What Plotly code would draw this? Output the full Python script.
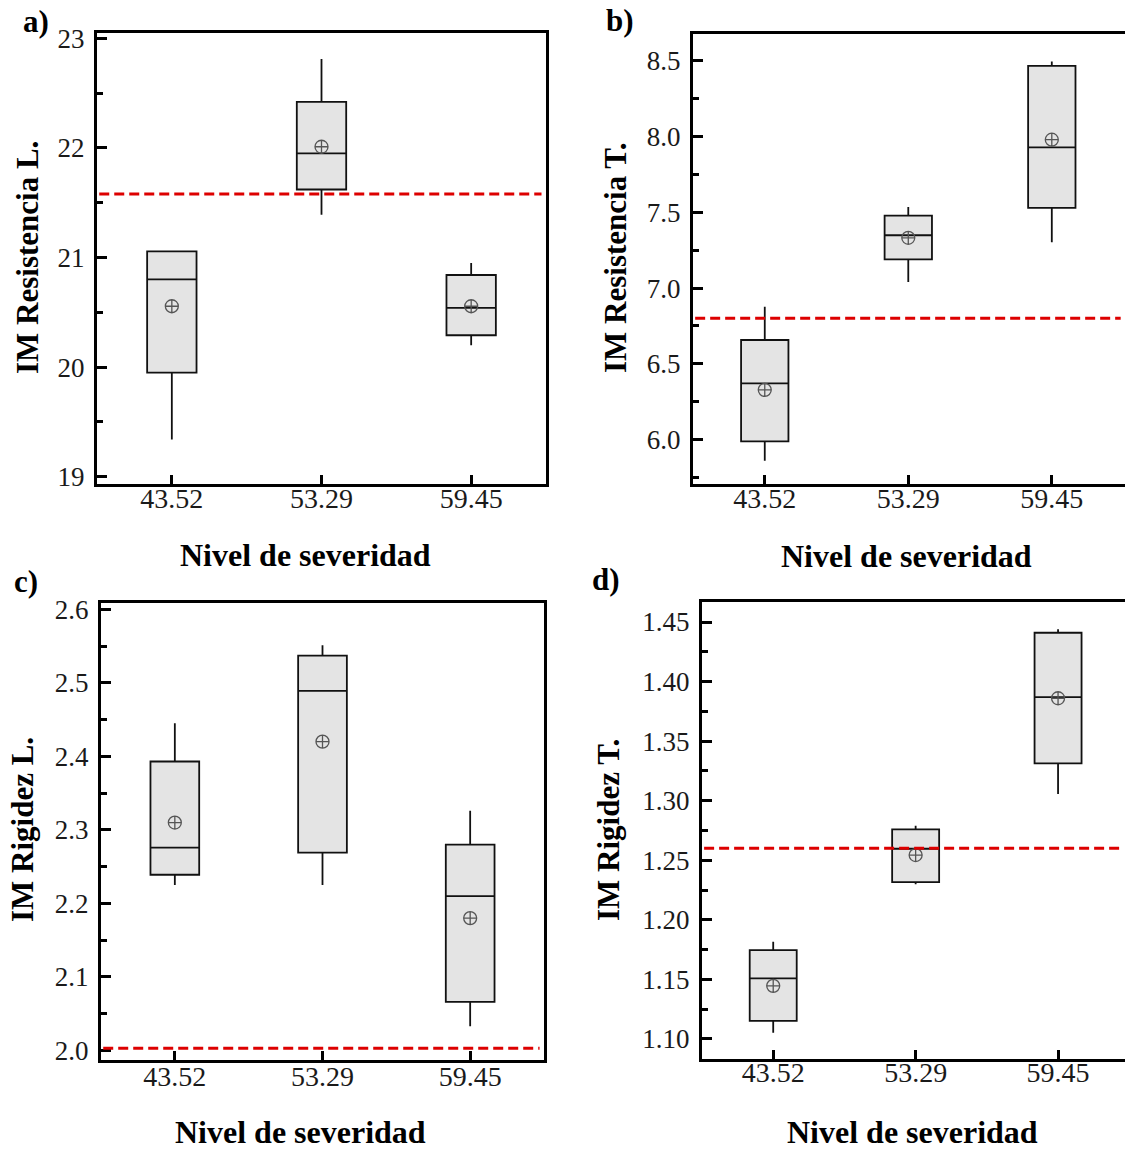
import plotly.graph_objects as go

W, H = 1125, 1149

categories = ["43.52", "53.29", "59.45"]

# Panel a) IM Resistencia L.
a_q1 = [19.95, 21.62, 20.29]
a_median = [20.80, 21.95, 20.54]
a_q3 = [21.055, 22.42, 20.84]
a_lower = [19.34, 21.39, 20.20]
a_upper = [21.055, 22.81, 20.95]
a_mean = [20.555, 22.01, 20.555]
a_ref = 21.58

# Panel b) IM Resistencia T.
b_q1 = [5.988, 7.189, 7.530]
b_median = [6.370, 7.349, 7.929]
b_q3 = [6.657, 7.479, 8.467]
b_lower = [5.86, 7.04, 7.303]
b_upper = [6.877, 7.536, 8.496]
b_mean = [6.328, 7.332, 7.980]
b_ref = 6.80

# Panel c) IM Rigidez L.
c_q1 = [2.239, 2.269, 2.066]
c_median = [2.276, 2.489, 2.210]
c_q3 = [2.393, 2.537, 2.280]
c_lower = [2.225, 2.225, 2.033]
c_upper = [2.445, 2.551, 2.326]
c_mean = [2.310, 2.420, 2.180]
c_ref = 2.003

# Panel d) IM Rigidez T.
d_q1 = [1.1152, 1.2317, 1.3314]
d_median = [1.1508, 1.2597, 1.387]
d_q3 = [1.1746, 1.276, 1.441]
d_lower = [1.1052, 1.2298, 1.3056]
d_upper = [1.1816, 1.279, 1.444]
d_mean = [1.1446, 1.2544, 1.386]
d_ref = 1.260

FONT = "Liberation Serif"

def px_x(p):
    return p / W

def px_y(p):
    return 1 - p / H

panels = [
    dict(key="", q1=a_q1, med=a_median, q3=a_q3, lo=a_lower, up=a_upper, mean=a_mean, ref=a_ref,
         xdom=(97, 546), ydom=(33, 484), yrange=(18.933, 23.048), dtick=1, minor=0.5, fmt="d",
         xrange=(-0.5, 2.5), mirror_y=True, ytitle="IM Resistencia L.", label="a)",
         label_pos=(36, 22), ytitle_pos=(27, 258), xtitle_pos=(305, 555), xstand=-13),
    dict(key="2", q1=b_q1, med=b_median, q3=b_q3, lo=b_lower, up=b_upper, mean=b_mean, ref=b_ref,
         xdom=(693, 1125), ydom=(34, 484), yrange=(5.706, 8.678), dtick=0.5, minor=0.25, fmt=".1f",
         xrange=(-0.5, 2.51), mirror_y=False, ytitle="IM Resistencia T.", label="b)",
         label_pos=(620, 20), ytitle_pos=(615, 258), xtitle_pos=(906, 556), xstand=-13),
    dict(key="3", q1=c_q1, med=c_median, q3=c_q3, lo=c_lower, up=c_upper, mean=c_mean, ref=c_ref,
         xdom=(101, 544), ydom=(603, 1060), yrange=(1.987, 2.6086), dtick=0.1, minor=0.05, fmt=".1f",
         xrange=(-0.5, 2.5), mirror_y=True, ytitle="IM Rigidez L.", label="c)",
         label_pos=(26, 581), ytitle_pos=(22, 830), xtitle_pos=(300, 1132), xstand=-11),
    dict(key="4", q1=d_q1, med=d_median, q3=d_q3, lo=d_lower, up=d_upper, mean=d_mean, ref=d_ref,
         xdom=(702, 1125), ydom=(602, 1059), yrange=(1.0832, 1.4668), dtick=0.05, minor=0.025, fmt=".2f",
         xrange=(-0.5, 2.47), mirror_y=False, ytitle="IM Rigidez T.", label="d)",
         label_pos=(606, 579), ytitle_pos=(608, 830), xtitle_pos=(912, 1132), xstand=-14),
]

fig = go.Figure()
layout = dict(
    width=W, height=H,
    margin=dict(l=0, r=0, t=0, b=0, pad=0, autoexpand=False),
    paper_bgcolor="white", plot_bgcolor="white",
    showlegend=False,
    font=dict(family=FONT, color="#1a1a1a"),
)
annotations = []
shapes = []

for p in panels:
    k = p["key"]
    xa, ya = "x" + k, "y" + k
    fig.add_trace(go.Box(
        x=categories, q1=p["q1"], median=p["med"], q3=p["q3"],
        lowerfence=p["lo"], upperfence=p["up"],
        xaxis=xa, yaxis=ya,
        boxpoints=False, whiskerwidth=0, width=0.33,
        fillcolor="#e4e4e4", line=dict(color="#111111", width=1.8),
        hoverinfo="skip",
    ))
    fig.add_trace(go.Scatter(
        x=categories, y=p["mean"], mode="markers",
        xaxis=xa, yaxis=ya,
        marker=dict(symbol="circle-cross-open", size=13, color="#555555",
                    line=dict(width=1.3, color="#555555")),
        hoverinfo="skip",
    ))
    layout["xaxis" + k] = dict(
        domain=[px_x(p["xdom"][0]), px_x(p["xdom"][1])],
        anchor=ya, type="category", range=list(p["xrange"]),
        showline=True, linecolor="black", linewidth=3, mirror=True,
        ticks="inside", ticklen=9, tickwidth=3, tickcolor="black",
        tickfont=dict(family=FONT, size=28, color="#1a1a1a"),
        ticklabelstandoff=p["xstand"],
        showgrid=False, zeroline=False, fixedrange=True, automargin=False,
    )
    layout["yaxis" + k] = dict(
        domain=[px_y(p["ydom"][1]), px_y(p["ydom"][0])],
        anchor=xa, range=list(p["yrange"]),
        showline=True, linecolor="black", linewidth=3, mirror=p["mirror_y"],
        ticks="inside", ticklen=10, tickwidth=3, tickcolor="black",
        dtick=p["dtick"], tick0=0, tickformat=p["fmt"],
        minor=dict(ticks="inside", ticklen=6, tickwidth=3, tickcolor="black", dtick=p["minor"], tick0=0),
        tickfont=dict(family=FONT, size=27, color="#1a1a1a"),
        ticklabelstandoff=4,
        showgrid=False, zeroline=False, fixedrange=True, automargin=False,
    )
    shapes.append(dict(
        type="line", xref=xa + " domain", yref=ya, x0=0.005, x1=0.99,
        y0=p["ref"], y1=p["ref"], layer="above",
        line=dict(color="#dd0000", width=3, dash="10px,5px"),
    ))
    annotations.append(dict(
        text="<b>" + p["label"] + "</b>", xref="paper", yref="paper",
        x=px_x(p["label_pos"][0]), y=px_y(p["label_pos"][1]),
        xanchor="center", yanchor="middle", showarrow=False,
        font=dict(family=FONT, size=31, color="black"),
    ))
    annotations.append(dict(
        text="<b>" + p["ytitle"] + "</b>", xref="paper", yref="paper",
        x=px_x(p["ytitle_pos"][0]), y=px_y(p["ytitle_pos"][1]),
        xanchor="center", yanchor="middle", showarrow=False, textangle=-90,
        font=dict(family=FONT, size=31, color="black"),
    ))
    annotations.append(dict(
        text="<b>Nivel de severidad</b>", xref="paper", yref="paper",
        x=px_x(p["xtitle_pos"][0]), y=px_y(p["xtitle_pos"][1]),
        xanchor="center", yanchor="middle", showarrow=False,
        font=dict(family=FONT, size=32, color="black"),
    ))

layout["annotations"] = annotations
layout["shapes"] = shapes
fig.update_layout(**layout)

fig.write_html("out.html", config={"displayModeBar": False})
